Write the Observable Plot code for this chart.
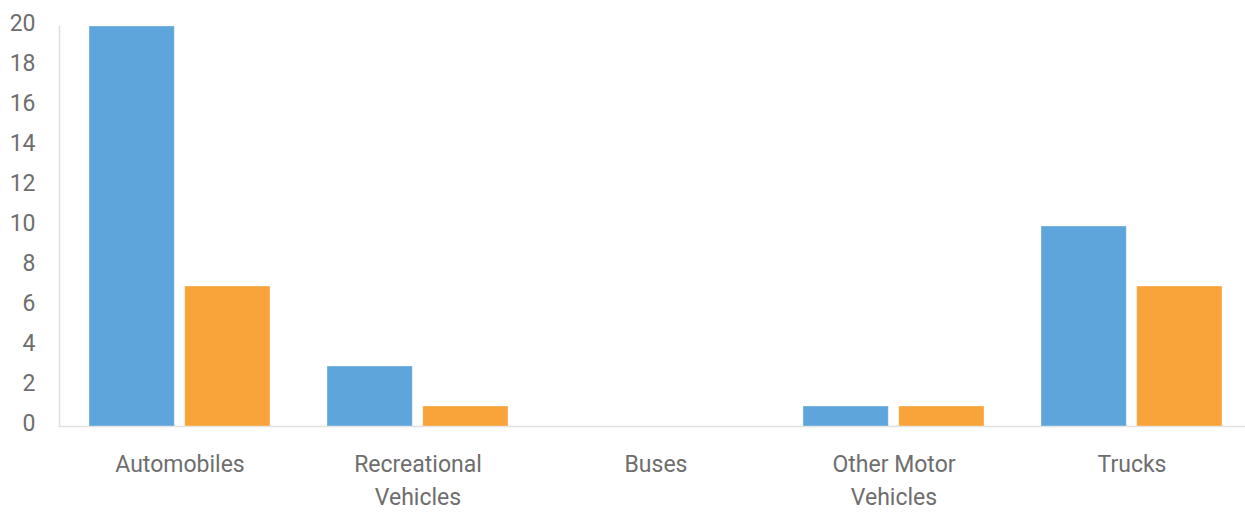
<!DOCTYPE html>
<html>
<head>
<meta charset="utf-8">
<script src="https://cdn.jsdelivr.net/npm/d3@7"></script>
<script src="https://cdn.jsdelivr.net/npm/@observablehq/plot@0.6"></script>
<style>
  html, body { margin: 0; padding: 0; background: #ffffff; }
  #chart svg { display: block; }
</style>
</head>
<body>
<div id="chart"></div>
<script>
const categories = ["Automobiles", "Recreational Vehicles", "Buses", "Other Motor Vehicles", "Trucks"];
const tickLabels = ["Automobiles", "Recreational\nVehicles", "Buses", "Other Motor\nVehicles", "Trucks"];
const seriesBlue = [20, 3, 0, 1, 10];
const seriesOrange = [7, 1, 0, 1, 7];
const yTicks = [0, 2, 4, 6, 8, 10, 12, 14, 16, 18, 20];

const blueData = categories.map((c, i) => ({category: c, value: seriesBlue[i]}));
const orangeData = categories.map((c, i) => ({category: c, value: seriesOrange[i]}));

const textColor = "#6e6e6e";
const lineColor = "#e0e0e0";

const chart = Plot.plot({
  width: 1245,
  height: 516,
  marginLeft: 59,
  marginRight: 0,
  marginTop: 26,
  marginBottom: 90,
  style: {fontFamily: "Roboto, sans-serif", fontSize: "23px", color: textColor, background: "#ffffff"},
  x: {domain: categories, paddingInner: 0.2385, paddingOuter: 0.1048, align: 0.566, label: null, axis: null},
  y: {domain: [0, 20], label: null, axis: null},
  marks: [
    Plot.frame({anchor: "left", stroke: lineColor, strokeWidth: 1.5}),
    Plot.frame({anchor: "bottom", stroke: lineColor, strokeWidth: 1.5}),
    Plot.barY(blueData, {x: "category", y: "value", fill: "#5da5da", stroke: "#ffffff", strokeOpacity: 0.35, insetRight: 95.7}),
    Plot.barY(orangeData, {x: "category", y: "value", fill: "#f9a33b", stroke: "#ffffff", strokeOpacity: 0.35, insetLeft: 95.7}),
    Plot.axisY({ticks: yTicks, tickSize: 0, tickPadding: 24, dy: -3, fill: textColor, fontSize: 23, label: null}),
    Plot.axisX({tickSize: 0, tickPadding: 22, fill: textColor, fontSize: 23, lineHeight: 1.43,
      tickFormat: d => tickLabels[categories.indexOf(d)], label: null})
  ]
});
document.getElementById("chart").appendChild(chart);
</script>
</body>
</html>
